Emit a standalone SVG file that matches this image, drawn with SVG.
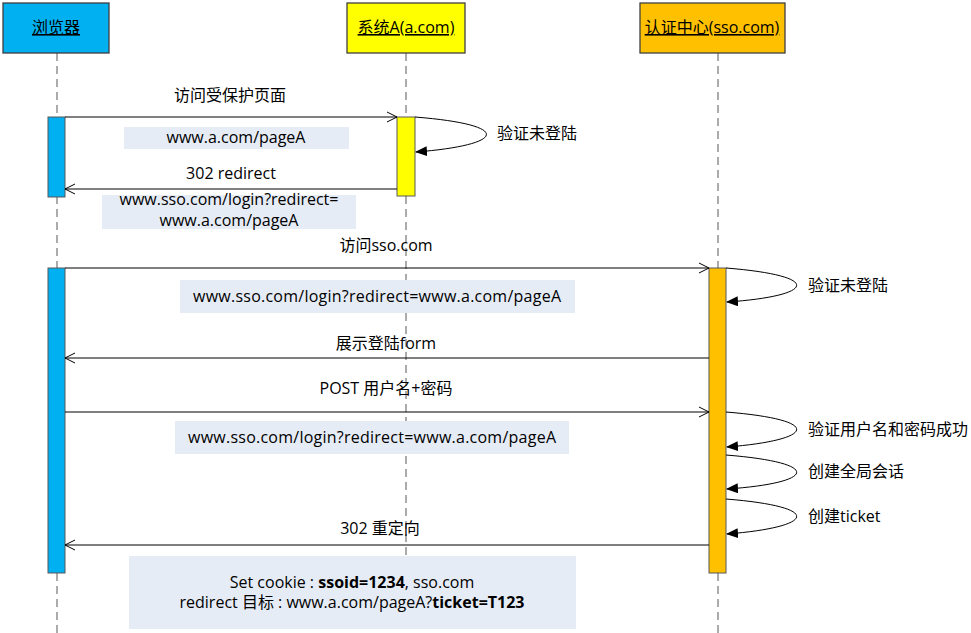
<svg xmlns="http://www.w3.org/2000/svg" width="971" height="633" viewBox="0 0 971 633">
<style>
text{font-family:"Open Sans","Noto Sans CJK SC",sans-serif;font-size:16px;fill:#000}
.c{text-anchor:middle}
.hdr{stroke:#404040;stroke-width:1.3}
.title{text-decoration:underline}
.life{stroke:#7f7f7f;stroke-width:1.3;stroke-dasharray:8 5;fill:none}
.act{stroke:#595959;stroke-width:1}
.msg{stroke:#000;stroke-width:1;fill:none;marker-end:url(#open)}
.loop{stroke:#000;stroke-width:1;fill:none;marker-end:url(#solid)}
.lbl{fill:#e6ecf6}
.b{font-weight:bold}
</style>
<defs>
<marker id="open" viewBox="0 0 12 12" refX="11" refY="6" markerWidth="12" markerHeight="12" markerUnits="userSpaceOnUse" orient="auto">
<path d="M1,1 L11,6 L1,11" fill="none" stroke="#000" stroke-width="1"/>
</marker>
<marker id="solid" viewBox="0 0 12 10" refX="11" refY="5" markerWidth="12" markerHeight="10" markerUnits="userSpaceOnUse" orient="auto">
<path d="M0,0 L12,5 L0,10 Z" fill="#000"/>
</marker>
</defs>
<rect width="971" height="633" fill="#fff"/>

<g id="lifelines">
<line class="life" x1="57" y1="53" x2="57" y2="633"/>
<line class="life" x1="406" y1="53" x2="406" y2="556"/>
<line class="life" x1="718" y1="53" x2="718" y2="633"/>
</g>

<g id="browser">
<rect class="hdr" x="3" y="3" width="106" height="50" fill="#00b0f0"/>
<text class="c title" x="56" y="33">浏览器</text>
<rect class="act" x="48" y="117" width="17" height="80" fill="#00b0f0"/>
<rect class="act" x="48" y="268" width="17" height="305" fill="#00b0f0"/>
</g>

<g id="systemA">
<rect class="hdr" x="347" y="3" width="118" height="50" fill="#ffff00"/>
<text class="c title" x="406" y="33">系统A(a.com)</text>
<rect class="act" x="397" y="117" width="18" height="79" fill="#ffff00"/>
</g>

<g id="sso">
<rect class="hdr" x="640" y="3" width="145" height="50" fill="#ffc000"/>
<text class="c title" x="712" y="33">认证中心(sso.com)</text>
<rect class="act" x="709" y="268" width="17" height="305" fill="#ffc000"/>
</g>

<g id="labels">
<rect class="lbl" x="124" y="127" width="225" height="22"/>
<text class="c" x="236" y="143">www.a.com/pageA</text>
<rect class="lbl" x="102" y="195" width="254" height="34"/>
<text class="c" x="229" y="205">www.sso.com/login?redirect=</text>
<text class="c" x="229" y="226">www.a.com/pageA</text>
<rect class="lbl" x="180" y="280" width="395" height="33"/>
<text class="c" x="377" y="302" textLength="368" lengthAdjust="spacing">www.sso.com/login?redirect=www.a.com/pageA</text>
<rect class="lbl" x="175" y="421" width="394" height="33"/>
<text class="c" x="372" y="443" textLength="368" lengthAdjust="spacing">www.sso.com/login?redirect=www.a.com/pageA</text>
<rect class="lbl" x="129" y="556" width="447" height="73"/>
<text class="c" x="352" y="588">Set cookie : <tspan class="b">ssoid=1234</tspan>, sso.com</text>
<text class="c" x="352" y="608">redirect 目标 : www.a.com/pageA?<tspan class="b">ticket=T123</tspan></text>
</g>

<g id="connectors">
<line class="msg" x1="65" y1="117" x2="397" y2="117"/>
<text class="c" x="230" y="101">访问受保护页面</text>
<path class="loop" d="M415,117 C515,125 505,145 416,152"/>
<text x="497" y="139">验证未登陆</text>
<line class="msg" x1="397" y1="189" x2="65" y2="189"/>
<text class="c" x="231" y="179">302 redirect</text>

<line class="msg" x1="65" y1="268" x2="709" y2="268"/>
<text class="c" x="386" y="251">访问sso.com</text>
<path class="loop" d="M726,268 C825,276 815,296 727,302"/>
<text x="808" y="291">验证未登陆</text>
<line class="msg" x1="709" y1="358" x2="65" y2="358"/>
<text class="c" x="386" y="349">展示登陆form</text>
<line class="msg" x1="65" y1="412" x2="709" y2="412"/>
<text class="c" x="386" y="394">POST 用户名+密码</text>
<path class="loop" d="M726,412 C825,420 815,440 727,447"/>
<text x="808" y="435">验证用户名和密码成功</text>
<path class="loop" d="M726,455 C825,463 815,483 727,489"/>
<text x="808" y="477">创建全局会话</text>
<path class="loop" d="M726,499 C825,507 815,527 727,534"/>
<text x="808" y="522">创建ticket</text>
<line class="msg" x1="709" y1="545" x2="65" y2="545"/>
<text class="c" x="380" y="534">302 重定向</text>
</g>
</svg>
